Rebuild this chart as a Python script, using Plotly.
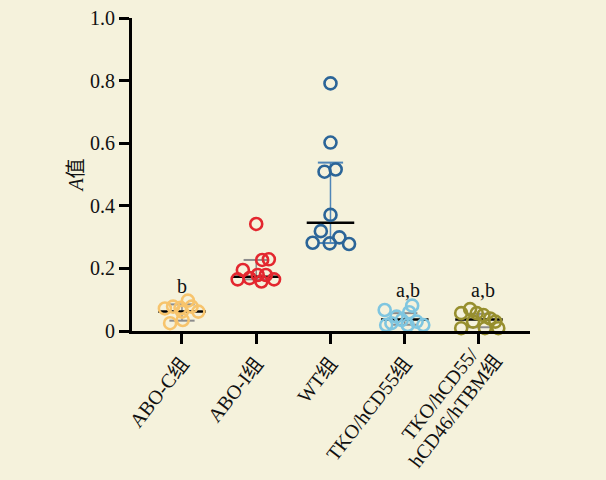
import plotly.graph_objects as go

# ---------------- data ----------------
groups = ["ABO-C组", "ABO-I组", "WT组", "TKO/hCD55组", "TKO/hCD55/<br>hCD46/hTBM组"]

abo_c_vals = [0.072, 0.078, 0.074, 0.097, 0.078, 0.062, 0.025, 0.035, -0.012, 0.062]
abo_c_jit = [-0.23, -0.12, -0.02, 0.08, 0.13, 0.22, -0.16, 0.01, 0.17, 0.00]

abo_i_vals = [0.342, 0.227, 0.229, 0.195, 0.165, 0.169, 0.179, 0.158, 0.179, 0.165]
abo_i_jit = [0.00, 0.08, 0.17, -0.18, -0.25, -0.09, 0.02, 0.07, 0.13, 0.24]

wt_vals = [0.791, 0.602, 0.509, 0.516, 0.371, 0.319, 0.282, 0.280, 0.299, 0.278]
wt_jit = [0.00, 0.00, -0.08, 0.07, 0.00, -0.13, -0.24, -0.01, 0.12, 0.25]

tko55_vals = [0.067, 0.081, 0.060, 0.025, 0.035, 0.019, 0.030, 0.019, 0.019, 0.046]
tko55_jit = [-0.27, 0.10, 0.06, -0.18, -0.04, 0.04, 0.16, 0.25, -0.25, -0.11]

tkoall_vals = [0.057, 0.070, 0.057, 0.051, 0.040, 0.030, 0.009, 0.030, 0.009, 0.009]
tkoall_jit = [-0.24, -0.12, -0.03, 0.06, 0.15, 0.22, -0.24, -0.08, 0.08, 0.26]

medians = [0.062, 0.173, 0.346, 0.037, 0.037]
q1 = [0.033, 0.165, 0.281, 0.020, 0.012]
q3 = [0.085, 0.227, 0.538, 0.057, 0.055]

sig_labels = ["b", "", "", "a,b", "a,b"]
sig_y = [0.145, 0, 0, 0.131, 0.131]

y_ticks = [0, 0.2, 0.4, 0.6, 0.8, 1.0]
y_ticktext = ["0", "0.2", "0.4", "0.6", "0.8", "1.0"]

# ---------------- styles ----------------
colors = ["#f7c46c", "#e3272f", "#2b6598", "#7fc6e0", "#978f2e"]
bar_colors = ["#8c8c8c", "#8c8c8c", "#4f86b8", "#8c8c8c", "#8c8c8c"]
FONT = "'Liberation Serif', 'Times New Roman', 'Noto Sans CJK SC', serif"
MED_HALF = 0.32
CAP_HALF = 0.17
ANGLE = -52

all_vals = [abo_c_vals, abo_i_vals, wt_vals, tko55_vals, tkoall_vals]
all_jit = [abo_c_jit, abo_i_jit, wt_jit, tko55_jit, tkoall_jit]

fig = go.Figure()

# error bars (IQR)
for i in range(len(groups)):
    fig.add_trace(go.Scatter(x=[i, i], y=[q1[i], q3[i]], mode="lines",
                             line=dict(color=bar_colors[i], width=1.5),
                             showlegend=False, hoverinfo="skip", cliponaxis=False))
    for qv in (q1[i], q3[i]):
        fig.add_trace(go.Scatter(x=[i - CAP_HALF, i + CAP_HALF], y=[qv, qv], mode="lines",
                                 line=dict(color=bar_colors[i], width=2),
                                 showlegend=False, hoverinfo="skip", cliponaxis=False))
# medians
for i in range(len(groups)):
    fig.add_trace(go.Scatter(x=[i - MED_HALF, i + MED_HALF], y=[medians[i], medians[i]],
                             mode="lines", line=dict(color="black", width=2.5),
                             showlegend=False, hoverinfo="skip", cliponaxis=False))
# points
for i in range(len(groups)):
    fig.add_trace(go.Scatter(
        x=[i + j for j in all_jit[i]], y=all_vals[i], mode="markers",
        marker=dict(symbol="circle-open", size=12, color=colors[i],
                    line=dict(width=2.6, color=colors[i])),
        showlegend=False, cliponaxis=False))

# significance labels
for i, t in enumerate(sig_labels):
    if t:
        fig.add_annotation(x=i + (0.0 if t == "b" else 0.05), y=sig_y[i], text=t,
                           showarrow=False, xref="x", yref="y", yanchor="middle",
                           font=dict(family=FONT, size=20, color="#111"))

# tick labels: single-line ones as axis tick text, the two-line one drawn line by line
tick_text = [g if "<br>" not in g else " " for g in groups]
last = len(groups) - 1
line_pos = [(-0.533, -0.200), (-0.323, -0.256)]   # offsets from the tick (x units, plot-height fraction)
for (dx, yv), part in zip(line_pos, groups[last].split("<br>")):
    fig.add_annotation(x=last + dx, y=yv, text=part, showarrow=False,
                       xref="x", yref="paper", xanchor="center", yanchor="middle",
                       textangle=ANGLE, font=dict(family=FONT, size=20, color="#111"))

bg = "#f5f2dc"
fig.update_layout(
    width=606, height=480,
    margin=dict(l=132, r=76, t=18, b=149),
    paper_bgcolor=bg, plot_bgcolor=bg,
    font=dict(family=FONT, size=20, color="#111"),
    xaxis=dict(range=[-0.673, 4.687], tickmode="array",
               tickvals=list(range(len(groups))), ticktext=tick_text,
               tickangle=ANGLE, showline=True, linecolor="black", linewidth=3,
               ticks="outside", ticklen=10, tickwidth=3, tickcolor="black",
               showgrid=False, zeroline=False, automargin=False,
               tickfont=dict(family=FONT, size=20, color="#111")),
    yaxis=dict(range=[0, 1], tickmode="array", tickvals=y_ticks, ticktext=y_ticktext,
               showline=True, linecolor="black", linewidth=3,
               ticks="outside", ticklen=10, tickwidth=3, tickcolor="black",
               showgrid=False, zeroline=False, automargin=False,
               tickfont=dict(family=FONT, size=20, color="#111"),
               title=dict(text="<i>A</i>值", standoff=2,
                          font=dict(family=FONT, size=20, color="#111"))),
)

fig.write_html("out.html", config={"displayModeBar": False},
               post_script="document.body.style.margin='0';document.body.style.background='%s';" % bg)
